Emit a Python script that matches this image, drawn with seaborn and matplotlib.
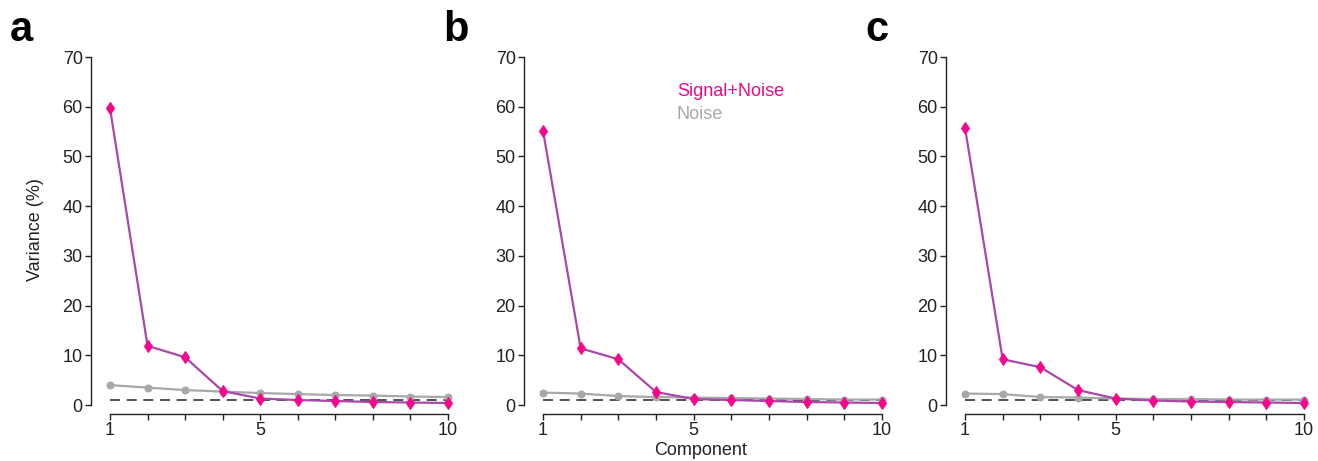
import matplotlib
matplotlib.use("Agg")
import matplotlib.pyplot as plt
import numpy as np
import pandas as pd
import seaborn as sns

# Explained variance per principal component for three datasets
components = list(range(1, 11))
signal_a = [59.7, 11.9, 9.6, 2.8, 1.3, 1.0, 0.8, 0.6, 0.5, 0.4]
noise_a = [4.0, 3.5, 3.0, 2.7, 2.4, 2.2, 2.0, 1.9, 1.7, 1.6]
signal_b = [55.2, 11.4, 9.2, 2.6, 1.2, 1.0, 0.8, 0.6, 0.5, 0.4]
noise_b = [2.5, 2.3, 1.8, 1.6, 1.5, 1.4, 1.3, 1.2, 1.1, 1.1]
signal_c = [55.8, 9.2, 7.6, 3.0, 1.3, 0.9, 0.7, 0.6, 0.5, 0.4]
noise_c = [2.3, 2.2, 1.6, 1.5, 1.3, 1.2, 1.2, 1.1, 1.1, 1.1]
chance_level = 1.0
panel_letters = ["a", "b", "c"]
y_ticks = [0, 10, 20, 30, 40, 50, 60, 70]
x_tick_labels = {1: "1", 5: "5", 10: "10"}

sns.set_theme(style="ticks")
plt.rcParams["font.family"] = ["Liberation Sans", "DejaVu Sans"]

LINE_COL = "#A848A8"
MARK_COL = "#F5078C"
NOISE_COL = "#A8A8A8"
AX_COL = "#222222"

fig = plt.figure(figsize=(13.18, 4.61), dpi=100)
W, H = 1318, 461
bottom = (H - 405) / H
height = (405 - 57) / H
lefts = [110, 543, 965]
widths = [338, 339, 339]

datasets = [(signal_a, noise_a), (signal_b, noise_b), (signal_c, noise_c)]
for i, ((sig, noi), left, w) in enumerate(zip(datasets, lefts, widths)):
    ax = fig.add_axes([left / W, bottom, w / W, height])
    df = pd.DataFrame({"Component": components, "Signal": sig, "Noise": noi})

    ax.plot([components[0], components[-1]], [chance_level, chance_level],
            ls=(0, (6, 4)), color="#333333", lw=1.2, zorder=1, clip_on=False)
    sns.lineplot(data=df, x="Component", y="Noise", ax=ax, color=NOISE_COL,
                 lw=1.6, marker="o", markersize=5, markeredgecolor=NOISE_COL,
                 markerfacecolor=NOISE_COL, clip_on=False, zorder=2)
    sns.lineplot(data=df, x="Component", y="Signal", ax=ax, color=LINE_COL,
                 lw=1.6, marker="d", markersize=6.5, markeredgecolor=MARK_COL,
                 markerfacecolor=MARK_COL, clip_on=False, zorder=3)

    ax.set_xlim(1, 10)
    ax.set_ylim(0, 70)
    ax.set_yticks(y_ticks)
    ax.set_xticks(components)
    ax.set_xticklabels([x_tick_labels.get(c, "") for c in components])
    ax.set_xlabel("")
    ax.set_ylabel("")
    sns.despine(ax=ax)
    ax.spines["left"].set_position(("outward", 13.7))
    ax.spines["bottom"].set_position(("outward", 6.5))
    for s in ("left", "bottom"):
        ax.spines[s].set_color(AX_COL)
        ax.spines[s].set_linewidth(1.0)
    ax.tick_params(axis="both", direction="out", length=4, width=1.0,
                   color=AX_COL, labelcolor=AX_COL, labelsize=13, pad=2)
    ax.grid(False)

    fig.text((left - 100) / W, 1 - 30 / H, panel_letters[i], fontsize=30,
             fontweight="bold", ha="left", va="center", color="black")

fig.text(35 / W, 1 - 230 / H, "Variance (%)", rotation=90, fontsize=13,
         ha="center", va="center", color=AX_COL)
fig.text(701 / W, 1 - 450 / H, "Component", fontsize=13,
         ha="center", va="center", color=AX_COL)

fig.text(677 / W, 1 - 92 / H, "Signal+Noise", fontsize=13, color=MARK_COL,
         ha="left", va="center")
fig.text(677 / W, 1 - 114 / H, "Noise", fontsize=13, color=NOISE_COL,
         ha="left", va="center")

fig.savefig("out.png", dpi=100)
